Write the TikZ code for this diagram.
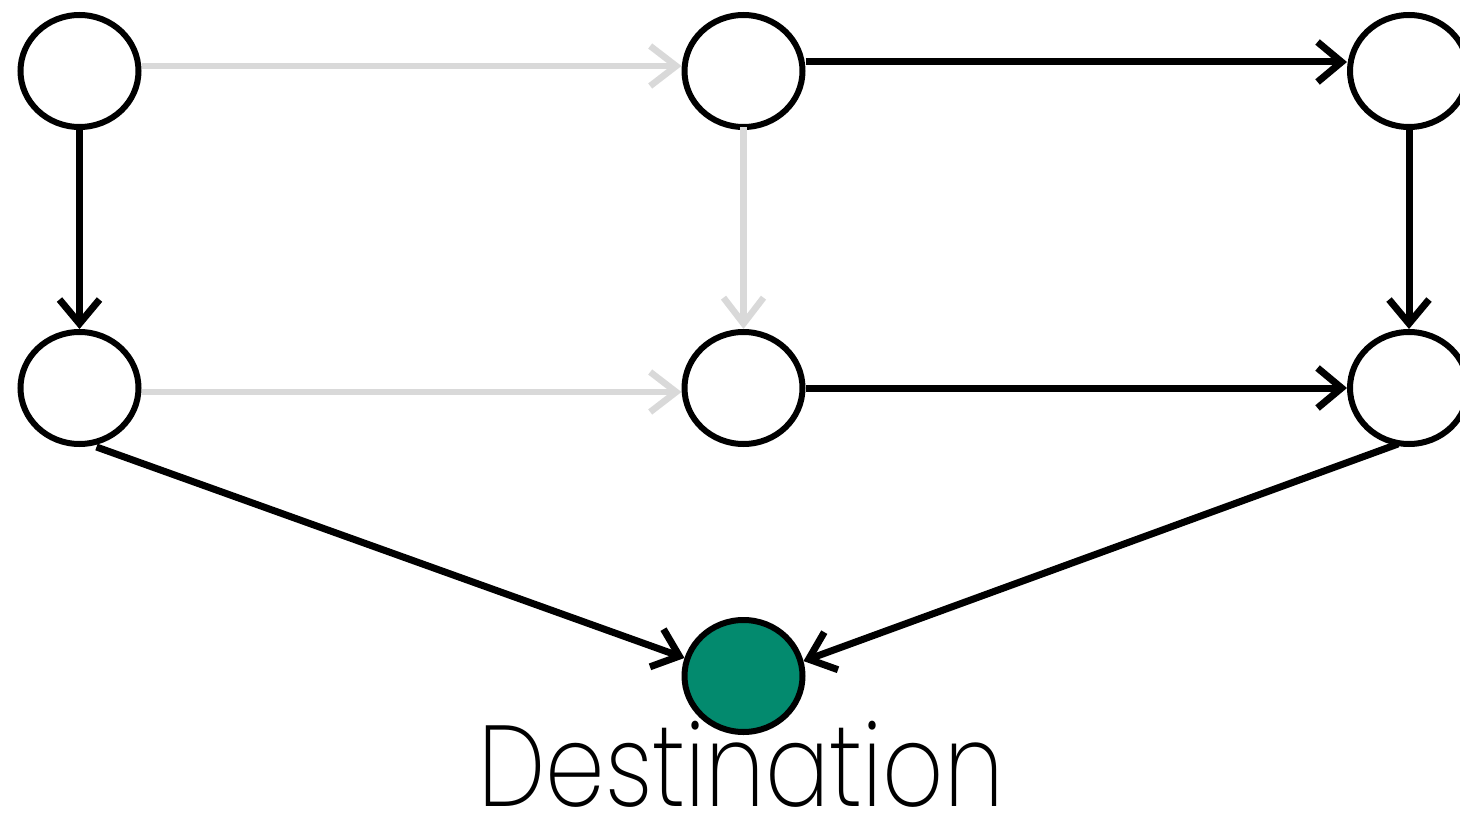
\documentclass[tikz,border=0pt]{standalone}
\usepackage{fontspec}
\setmainfont{Poppins ExtraLight}
\usetikzlibrary{arrows.meta,shapes.geometric}
\definecolor{destteal}{HTML}{038A6E}
\definecolor{lightgrey}{HTML}{D9D9D9}
\begin{document}
\begin{tikzpicture}[x=1pt,y=-1pt,
  vertex/.style={draw=black,line width=6pt,ellipse,minimum width=118pt,minimum height=112pt,inner sep=0pt,fill=white},
  active/.style={draw=black,line width=7pt,-{Straight Barb[length=24pt,width=40pt,line width=7pt]}},
  inactive/.style={draw=lightgrey,line width=6.5pt,-{Straight Barb[length=26pt,width=40pt,line width=6.5pt]}},
  label/.style={font=\fontsize{115}{120}\selectfont,anchor=base,inner sep=0pt,text depth=0pt,xscale=0.83}]
\useasboundingbox (0,0) rectangle (1460,816);
\clip (0,0) rectangle (1460,816);
\node[vertex] (TL) at (79.5,71) {};
\node[vertex] (TM) at (743.5,71) {};
\node[vertex] (TR) at (1409,71) {};
\node[vertex] (ML) at (79.5,388) {};
\node[vertex] (MM) at (743.5,388) {};
\node[vertex] (MR) at (1409,388) {};
\node[vertex,fill=destteal] (D) at (743.5,676) {};
\draw[inactive] ([yshift=5pt]TL.east) -- ([yshift=5pt]TM.west);
\draw[active] ([yshift=9pt]TM.east) -- ([yshift=9pt]TR.west);
\draw[inactive] ([yshift=-4pt]ML.east) -- ([yshift=-4pt]MM.west);
\draw[active] (MM.east) -- (MR.west);
\draw[active] ([yshift=3pt]TL.south) -- (ML.north);
\draw[inactive] ([yshift=3pt]TM.south) -- (MM.north);
\draw[active] ([yshift=3pt]TR.south) -- (MR.north);
\draw[active] ([xshift=17pt]ML.south) -- (D.163);
\draw[active] ([xshift=-11pt,yshift=3pt]MR.south) -- (D.14);
\node[label] (T) at (741,806) {Destination};
\end{tikzpicture}
\end{document}
